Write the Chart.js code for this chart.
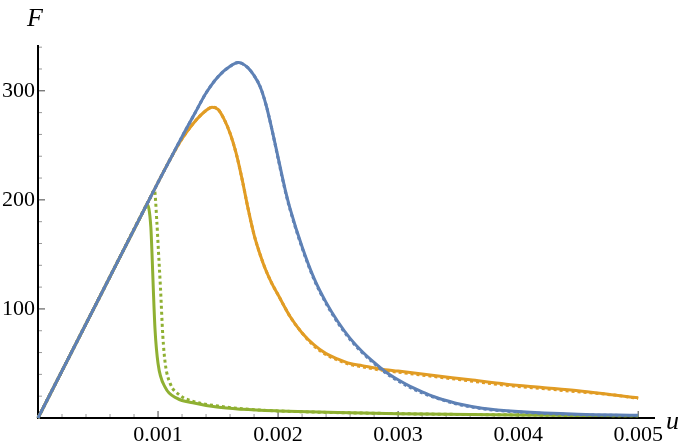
<!DOCTYPE html>
<html>
<head>
<meta charset="utf-8">
<script src="https://cdn.jsdelivr.net/npm/chart.js@4"></script>
<style>
  body { margin: 0; background: #fff; }
  #wrap { width: 685px; height: 444px; }
</style>
</head>
<body>
<div id="wrap"><canvas id="plot"></canvas></div>
<script>
// u values and forces
var blueU = [0, 0.0005, 0.001, 0.0011, 0.0012, 0.0013, 0.0014, 0.0015, 0.0016, 0.00167, 0.0017, 0.00175, 0.0018, 0.00185, 0.0019, 0.00195, 0.002, 0.00206, 0.0021, 0.0022, 0.0023, 0.0024, 0.0025, 0.0026, 0.0027, 0.0028, 0.0029, 0.003, 0.0031, 0.0032, 0.0033, 0.0034, 0.0035, 0.0037, 0.004, 0.0045, 0.005];
var blueF = [0, 108, 216, 237, 258, 278, 298, 313, 322.5, 326, 325, 321, 314, 304, 287, 264, 239, 209, 192, 157, 128, 106, 88, 73, 61, 51, 42, 35, 29, 24, 19.5, 16, 13, 9, 6, 3.5, 2.5];
var blueDotF = [0, 108, 216, 237, 258, 278, 298, 313, 322.5, 326, 325, 321, 314, 304, 287, 264, 238, 208, 191, 156, 127, 105, 87, 72, 60, 50, 41, 34, 28, 23, 19, 15.5, 12.5, 8.5, 5.5, 3, 2.2];

var orangeU = [0, 0.0005, 0.001, 0.0011, 0.0012, 0.0013, 0.0014, 0.00145, 0.0015, 0.00155, 0.0016, 0.00165, 0.0017, 0.00175, 0.0018, 0.00185, 0.0019, 0.00195, 0.002, 0.0021, 0.0022, 0.0023, 0.0024, 0.0025, 0.0026, 0.0027, 0.00285, 0.003, 0.0033, 0.0036, 0.0039, 0.0042, 0.0045, 0.0048, 0.005];
var orangeF = [0, 108, 216, 237, 256, 271, 282, 285, 283, 274, 261, 243, 219, 192, 168, 150, 135, 123, 113, 93, 78, 67, 59, 54, 50, 48, 45, 43, 39, 35, 31, 28, 25, 21, 18.5];
var orangeDotF = [0, 108, 216, 237, 256, 271, 282, 285, 283, 274, 261, 243, 219, 192, 168, 150, 135, 123, 113, 93, 78, 66, 58, 53, 49, 47, 44, 42, 38, 34, 30, 27, 24, 21, 18];

var greenU = [0, 0.0005, 0.00088, 0.000908, 0.00094, 0.00095, 0.00096, 0.000975, 0.001, 0.00106, 0.00116, 0.00129, 0.00149, 0.0017, 0.002, 0.0025, 0.003, 0.004, 0.005];
var greenF = [0, 108, 190, 196, 175, 150, 120, 81, 50, 28, 18, 14, 10, 8, 6.5, 5, 4, 2.8, 2];
var greenDotU = [0, 0.0005, 0.00094, 0.00097, 0.00099, 0.001, 0.00101, 0.00102, 0.00104, 0.00106, 0.0011, 0.00118, 0.0013, 0.0015, 0.0017, 0.002, 0.003, 0.004, 0.005];
var greenDotF = [0, 108, 203, 209, 180, 160, 140, 120, 75, 50, 32, 21, 15, 11, 8.5, 6.5, 4, 2.8, 2];

var xTicks = [0.001, 0.002, 0.003, 0.004, 0.005];
var yTicks = [100, 200, 300];

var blue = '#5E81B5', orange = '#E19C24', green = '#8FB032';
var serif = '"Liberation Serif", "DejaVu Serif", serif';

function pts(us, fs) {
    return us.map(function (u, i) { return { x: u, y: fs[i] }; });
}

function line(data, color, dotted) {
    return {
        data: data,
        borderColor: color,
        borderWidth: 3,
        borderDash: dotted ? [3, 3] : [],
        pointRadius: 0,
        cubicInterpolationMode: 'monotone',
        fill: false,
        clip: false
    };
}

var axesPlugin = {
    id: 'axes',
    beforeDatasetsDraw: function (chart) {
        var ctx = chart.ctx, a = chart.chartArea;
        var x = chart.scales.x, y = chart.scales.y;
        var x0 = x.getPixelForValue(0), y0 = y.getPixelForValue(0);
        ctx.save();
        // minor and major ticks, drawn inward
        for (var i = 1; i * 0.0002 <= x.max; i++) {
            var px = x.getPixelForValue(i * 0.0002);
            var major = i % 5 === 0;
            ctx.strokeStyle = major ? '#444' : '#999';
            ctx.lineWidth = 1;
            ctx.beginPath();
            ctx.moveTo(px, y0);
            ctx.lineTo(px, y0 - (major ? 7 : 4));
            ctx.stroke();
        }
        for (var j = 1; j * 20 <= y.max; j++) {
            var py = y.getPixelForValue(j * 20);
            var maj = j % 5 === 0;
            ctx.strokeStyle = maj ? '#444' : '#999';
            ctx.lineWidth = 1;
            ctx.beginPath();
            ctx.moveTo(x0, py);
            ctx.lineTo(x0 + (maj ? 7 : 4), py);
            ctx.stroke();
        }
        ctx.strokeStyle = '#000';
        ctx.lineWidth = 2;
        ctx.beginPath();
        ctx.moveTo(x0, a.top);
        ctx.lineTo(x0, y0);
        ctx.lineTo(a.right, y0);
        ctx.stroke();
        // axis names
        ctx.fillStyle = '#000';
        ctx.font = 'italic 26px ' + serif;
        ctx.textBaseline = 'alphabetic';
        ctx.fillText('F', 27, 26);
        ctx.fillText('u', 666, 429);
        ctx.restore();
    }
};

var ctx = document.getElementById('plot').getContext('2d');
var chart = new Chart(ctx, {
    type: 'line',
    data: {
        datasets: [
            line(pts(blueU, blueF), blue, false),
            line(pts(blueU, blueDotF), blue, true),
            line(pts(orangeU, orangeF), orange, false),
            line(pts(orangeU, orangeDotF), orange, true),
            line(pts(greenU, greenF), green, false),
            line(pts(greenDotU, greenDotF), green, true)
        ]
    },
    options: {
        responsive: true,
        maintainAspectRatio: false,
        animation: false,
        layout: { padding: { top: 45, right: 30, left: 0, bottom: 0 } },
        plugins: { legend: { display: false }, tooltip: { enabled: false } },
        scales: {
            x: {
                type: 'linear',
                min: 0,
                max: 0.00514,
                grid: { display: false, drawTicks: false },
                border: { display: false },
                afterFit: function (s) { s.height = 26; },
                afterBuildTicks: function (s) {
                    s.ticks = xTicks.map(function (v) { return { value: v }; });
                },
                ticks: {
                    padding: 4,
                    maxRotation: 0,
                    autoSkip: false,
                    color: '#000',
                    font: { family: serif, size: 22 },
                    callback: function (v) { return v.toFixed(3); }
                }
            },
            y: {
                min: 0,
                max: 342,
                grid: { display: false, drawTicks: false },
                border: { display: false },
                afterFit: function (s) { s.width = 38; },
                afterBuildTicks: function (s) {
                    s.ticks = yTicks.map(function (v) { return { value: v }; });
                },
                ticks: {
                    padding: 3,
                    color: '#000',
                    font: { family: serif, size: 22 },
                    callback: function (v) { return v; }
                }
            }
        }
    },
    plugins: [axesPlugin]
});
</script>
</body>
</html>
